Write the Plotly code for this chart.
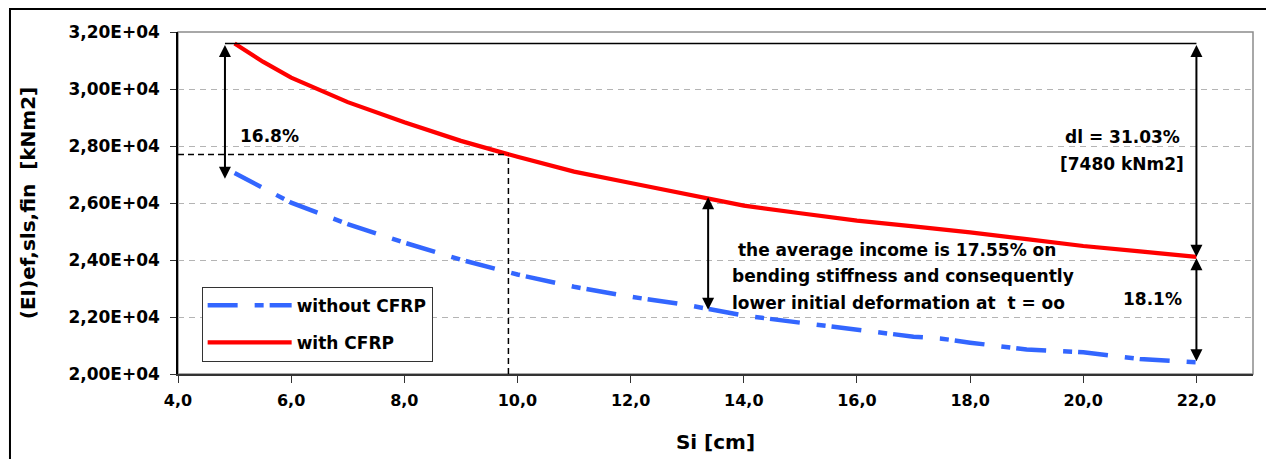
import plotly.graph_objects as go

# ---------------- data ----------------
si = [5, 5.5, 6, 7, 8, 9, 10, 11, 12, 13, 14, 15, 16, 17, 17.5, 18, 19, 20, 21, 22]
ei_with_cfrp = [31600, 30960, 30400, 29540, 28830, 28180, 27620, 27100, 26700, 26300,
                25910, 25640, 25380, 25180, 25080, 24970, 24730, 24490, 24300, 24110]
ei_without_cfrp = [27050, 26530, 26010, 25260, 24610, 24010, 23490, 23060, 22710, 22420,
                   22050, 21800, 21550, 21310, 21240, 21100, 20860, 20760, 20530, 20410]

x_tick_vals = [4, 6, 8, 10, 12, 14, 16, 18, 20, 22]
x_tick_text = ["4,0", "6,0", "8,0", "10,0", "12,0", "14,0", "16,0", "18,0", "20,0", "22,0"]
y_tick_vals = [20000, 22000, 24000, 26000, 28000, 30000, 32000]
y_tick_text = ["2,00E+04", "2,20E+04", "2,40E+04", "2,60E+04", "2,80E+04", "3,00E+04", "3,20E+04"]

# reference values (annotations)
top_value = 31600
left_arrow_x, left_arrow_bottom = 4.83, 26850
mid_arrow_x, mid_arrow_top, mid_arrow_bottom = 13.37, 26255, 22256
right_arrow_x, right_mid, right_bottom = 22, 24110, 20445
cross_x, cross_y = 9.84, 27700

FONT = "DejaVu Sans"

fig = go.Figure()
fig.add_trace(go.Scatter(
    x=si, y=ei_without_cfrp, mode="lines", name="without CFRP", legendgroup="a",
    line=dict(color="#3366ff", width=4.5, dash="30px,17px,9px,6px"),
))
fig.add_trace(go.Scatter(
    x=si, y=ei_with_cfrp, mode="lines", name="with CFRP", legendgroup="b",
    line=dict(color="#ff0000", width=4.2),
))

shapes = [
    # plot-area gray border
    dict(type="rect", xref="paper", yref="paper", x0=0, x1=1, y0=0, y1=1,
         line=dict(color="#8c8c8c", width=1.5), layer="below"),
    # outer frame
    dict(type="rect", xref="paper", yref="paper", x0=-0.1563, x1=1.3, y0=-0.5, y1=1.067,
         line=dict(color="black", width=2)),
    # top reference line
    dict(type="line", xref="x", yref="y", x0=left_arrow_x, x1=right_arrow_x,
         y0=top_value, y1=top_value, line=dict(color="black", width=1.5)),
    # dashed crosshair
    dict(type="line", xref="x", yref="y", x0=4, x1=cross_x, y0=cross_y, y1=cross_y,
         line=dict(color="black", width=1.5, dash="6px,4px")),
    dict(type="line", xref="x", yref="y", x0=cross_x, x1=cross_x, y0=20000, y1=cross_y,
         line=dict(color="black", width=1.5, dash="6px,4px")),
]

annotations = []


def arrow(x, y_from, y_to):
    annotations.append(dict(
        x=x, y=y_to, ax=x, ay=y_from, xref="x", yref="y", axref="x", ayref="y",
        text="", showarrow=True, arrowhead=2, startarrowhead=2, arrowside="end+start",
        arrowsize=1.2, startarrowsize=1.2, arrowwidth=2, arrowcolor="black",
        standoff=0, startstandoff=0,
    ))


arrow(left_arrow_x, top_value, left_arrow_bottom)
arrow(mid_arrow_x, mid_arrow_top, mid_arrow_bottom)
arrow(right_arrow_x, top_value, right_mid)
arrow(right_arrow_x, right_mid, right_bottom)


def label(text, x, y, size=17, anchor="left", bold=True, xref="x"):
    annotations.append(dict(
        x=x, y=y, xref=xref, yref="y", text=text, showarrow=False,
        xanchor=anchor, yanchor="middle",
        font=dict(family=FONT, size=size, color="black", weight="bold" if bold else "normal"),
    ))


label("16.8%", 5.06, 28361)
label("2,76E+04", 3.623, 27238, size=15, anchor="right", bold=False)
label("dl = 31.03%", 20.69, 28326, anchor="center")
label("[7480 kNm2]", 20.69, 27379, anchor="center")
label("18.1%", 21.22, 22641, anchor="center")
label(" the average income is 17.55% on", 13.75, 24361)
label("bending stiffness and consequently", 13.75, 23424)
label("lower initial deformation at \u00a0t = oo", 13.75, 22491)

fig.update_layout(
    width=1274, height=459,
    margin=dict(l=170, r=29, t=24, b=93),
    plot_bgcolor="white", paper_bgcolor="white",
    shapes=shapes, annotations=annotations,
    showlegend=True,
    legend=dict(
        x=0.022, y=0.255, xanchor="left", yanchor="top",
        bordercolor="#333333", borderwidth=1, bgcolor="white",
        font=dict(family=FONT, size=17, color="black", weight="bold"),
        itemwidth=84, tracegroupgap=12,
    ),
    xaxis=dict(
        range=[4, 23.0], tickvals=x_tick_vals, ticktext=x_tick_text,
        ticks="outside", ticklen=7, tickcolor="#333333", tickwidth=1,
        showline=True, linecolor="#333333", linewidth=2,
        showgrid=False, zeroline=False, ticklabelstandoff=4,
        tickfont=dict(family=FONT, size=16, color="black", weight="bold"),
        title=dict(text="Si [cm]", standoff=26,
                   font=dict(family=FONT, size=20, color="black", weight="bold")),
    ),
    yaxis=dict(
        range=[20000, 32000], tickvals=y_tick_vals, ticktext=y_tick_text,
        ticks="outside", ticklen=6, tickcolor="#333333", tickwidth=1,
        showline=True, linecolor="black", linewidth=1.5,
        showgrid=True, gridcolor="#b4b4b4", gridwidth=1, griddash="6px,5px",
        zeroline=False, ticklabelstandoff=7,
        tickfont=dict(family=FONT, size=17, color="black", weight="bold"),
        title=dict(text="(EI)ef,sls,fin \u00a0[kNm2]", standoff=27,
                   font=dict(family=FONT, size=20, color="black", weight="bold")),
    ),
)

fig.write_html("out.html")
